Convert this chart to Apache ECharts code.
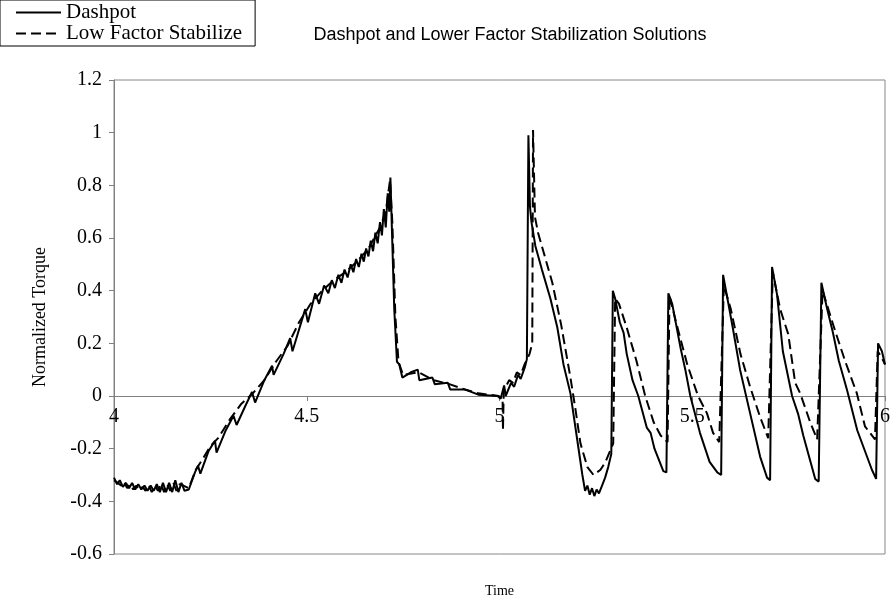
<!DOCTYPE html>
<html>
<head>
<meta charset="utf-8">
<script src="https://cdn.jsdelivr.net/npm/echarts@6/dist/echarts.min.js"></script>
<style>
  html, body { margin: 0; padding: 0; background: #fff; }
  #chart { width: 890px; height: 607px; }
</style>
</head>
<body>
<div id="chart"></div>
<script>
// Dashpot (solid) - time / normalized torque
const dashpotTime = [
  4.000, 4.008, 4.015, 4.023, 4.031, 4.039, 4.047, 4.055, 4.063, 4.071,
  4.079, 4.087, 4.095, 4.103, 4.111, 4.119, 4.127, 4.135, 4.143, 4.151,
  4.159, 4.167, 4.175, 4.183, 4.194, 4.210, 4.218, 4.224, 4.245, 4.262,
  4.266, 4.290, 4.310, 4.318, 4.340, 4.358, 4.366, 4.390, 4.410, 4.414,
  4.440, 4.457, 4.463, 4.496, 4.503, 4.522, 4.532, 4.545, 4.556, 4.565,
  4.573, 4.582, 4.590, 4.598, 4.606, 4.614, 4.621, 4.628, 4.635, 4.642,
  4.648, 4.654, 4.660, 4.666, 4.672, 4.678, 4.684, 4.690, 4.695, 4.700,
  4.705, 4.710, 4.714, 4.717, 4.720, 4.727, 4.734, 4.740, 4.748, 4.770,
  4.788, 4.792, 4.826, 4.832, 4.866, 4.872, 4.910, 4.945, 4.995, 5.003,
  5.012, 5.016, 5.030, 5.038, 5.048, 5.055, 5.066, 5.071, 5.075, 5.079,
  5.083, 5.093, 5.110, 5.132, 5.150, 5.166, 5.184, 5.202, 5.215, 5.222,
  5.228, 5.234, 5.240, 5.246, 5.252, 5.258, 5.266, 5.274, 5.282, 5.290,
  5.294, 5.300, 5.312, 5.322, 5.330, 5.345, 5.360, 5.382, 5.392, 5.402,
  5.425, 5.433, 5.438, 5.448, 5.470, 5.482, 5.495, 5.520, 5.545, 5.565,
  5.575, 5.580, 5.590, 5.605, 5.624, 5.650, 5.676, 5.694, 5.702, 5.707,
  5.720, 5.735, 5.759, 5.775, 5.788, 5.819, 5.828, 5.835, 5.850, 5.865,
  5.880, 5.902, 5.928, 5.966, 5.977, 5.982, 5.992, 6.000
];
const dashpotTorque = [
  -0.31, -0.335, -0.32, -0.345, -0.33, -0.35, -0.33, -0.355, -0.335, -0.355,
  -0.34, -0.36, -0.34, -0.36, -0.335, -0.365, -0.33, -0.365, -0.33, -0.365,
  -0.32, -0.365, -0.33, -0.36, -0.355, -0.29, -0.265, -0.295, -0.21, -0.17,
  -0.215, -0.13, -0.075, -0.11, -0.04, 0.015, -0.025, 0.06, 0.115, 0.08,
  0.16, 0.22, 0.17, 0.33, 0.28, 0.39, 0.35, 0.42, 0.39, 0.44,
  0.41, 0.46, 0.43, 0.48, 0.45, 0.50, 0.47, 0.52, 0.49, 0.54,
  0.51, 0.56, 0.53, 0.59, 0.55, 0.62, 0.58, 0.66, 0.61, 0.71,
  0.64, 0.77, 0.70, 0.83, 0.68, 0.33, 0.13, 0.12, 0.07, 0.09,
  0.10, 0.06, 0.07, 0.045, 0.05, 0.025, 0.025, 0.005, 0.0, -0.01,
  0.04, 0.0, 0.05, 0.035, 0.08, 0.065, 0.11, 0.14, 0.99, 0.72,
  0.66, 0.57, 0.48, 0.37, 0.26, 0.12, 0.01, -0.17, -0.30, -0.36,
  -0.34, -0.375, -0.35, -0.38, -0.355, -0.37, -0.34, -0.31, -0.27, -0.22,
  0.40, 0.37, 0.28, 0.24, 0.16, 0.06, 0.0, -0.12, -0.14, -0.20,
  -0.285, -0.29, 0.39, 0.35, 0.18, 0.10, 0.0, -0.14, -0.25, -0.29,
  -0.30, 0.46, 0.38, 0.26, 0.10, -0.065, -0.23, -0.31, -0.32, 0.49,
  0.385, 0.17, 0.0, -0.07, -0.15, -0.315, -0.325, 0.43, 0.33, 0.24,
  0.135, 0.02, -0.13, -0.28, -0.315, 0.20, 0.17, 0.12
];

// Low Factor Stabilize (dashed)
const lowTime = [
  4.000, 4.010, 4.018, 4.026, 4.034, 4.042, 4.050, 4.058, 4.066, 4.074,
  4.082, 4.090, 4.098, 4.106, 4.114, 4.122, 4.130, 4.138, 4.146, 4.154,
  4.162, 4.170, 4.180, 4.194, 4.212, 4.230, 4.250, 4.270, 4.300, 4.330,
  4.360, 4.390, 4.420, 4.450, 4.480, 4.510, 4.540, 4.570, 4.600, 4.630,
  4.660, 4.690, 4.705, 4.716, 4.722, 4.730, 4.738, 4.750, 4.790, 4.830,
  4.870, 4.910, 4.945, 4.998, 5.008, 5.009, 5.011, 5.025, 5.035, 5.045,
  5.055, 5.065, 5.078, 5.085, 5.087, 5.092, 5.100, 5.137, 5.160, 5.184,
  5.197, 5.210, 5.228, 5.244, 5.262, 5.275, 5.295, 5.300, 5.310, 5.330,
  5.355, 5.378, 5.400, 5.418, 5.436, 5.441, 5.458, 5.487, 5.515, 5.538,
  5.554, 5.570, 5.582, 5.600, 5.625, 5.650, 5.676, 5.697, 5.709, 5.728,
  5.749, 5.767, 5.780, 5.806, 5.824, 5.838, 5.870, 5.896, 5.927, 5.948,
  5.974, 5.981, 5.990, 6.000
];
const lowTorque = [
  -0.32, -0.33, -0.34, -0.325, -0.35, -0.335, -0.355, -0.34, -0.36, -0.345,
  -0.36, -0.34, -0.365, -0.34, -0.36, -0.335, -0.365, -0.335, -0.36, -0.33,
  -0.36, -0.335, -0.34, -0.35, -0.28, -0.24, -0.19, -0.16, -0.09, -0.03,
  0.01, 0.06, 0.13, 0.19, 0.28, 0.35, 0.40, 0.44, 0.47, 0.51,
  0.56, 0.64, 0.70, 0.82, 0.66, 0.30, 0.13, 0.08, 0.09, 0.06,
  0.045, 0.025, 0.01, 0.0, -0.01, -0.13, 0.02, 0.06, 0.05, 0.09,
  0.08, 0.12, 0.16, 0.20, 1.01, 0.68, 0.62, 0.43, 0.27, 0.07,
  -0.05, -0.18, -0.27, -0.30, -0.28, -0.25, -0.18, 0.37, 0.35, 0.26,
  0.135, 0.0, -0.10, -0.15, -0.175, 0.38, 0.28, 0.12, 0.0, -0.065,
  -0.14, -0.175, 0.42, 0.33, 0.16, 0.035, -0.08, -0.16, 0.47, 0.33,
  0.235, 0.05, 0.01, -0.10, -0.165, 0.40, 0.25, 0.135, 0.01, -0.115,
  -0.165, 0.17, 0.15, 0.12
];

const yTicks = { min: -0.6, max: 1.2, step: 0.2 };
const xTicks = { min: 4, max: 6, step: 0.5 };

const pairs = (xs, ys) => xs.map((x, i) => [x, ys[i]]);

const gridTop = 80, gridBottom = 53, chartH = 607;
// place the x axis on the zero line (Excel style)
const plotH = chartH - gridTop - gridBottom;
const zeroShift = plotH * (0 - yTicks.min) / (yTicks.max - yTicks.min);

const chart = echarts.init(document.getElementById('chart'));
chart.setOption({
  animation: false,
  backgroundColor: '#fff',
  title: {
    text: 'Dashpot and Lower Factor Stabilization Solutions',
    left: 505,
    top: 21,
    textAlign: 'center',
    textStyle: { fontFamily: 'Liberation Sans', fontSize: 18, fontWeight: 'normal', color: '#000' }
  },
  legend: {
    left: 0,
    top: 0,
    orient: 'vertical',
    itemWidth: 45,
    itemHeight: 12,
    itemGap: 0,
    padding: [2, 13, 2, 15],
    borderColor: '#000',
    borderWidth: 1,
    itemStyle: { opacity: 0 },
    textStyle: { fontFamily: 'Liberation Serif', fontSize: 21, lineHeight: 20, color: '#000' },
    data: ['Dashpot', 'Low Factor Stabilize']
  },
  grid: {
    left: 114, right: 5, top: gridTop, bottom: gridBottom,
    outerBoundsMode: 'none', containLabel: false,
    show: true, borderColor: '#888', borderWidth: 1
  },
  xAxis: {
    type: 'value',
    min: xTicks.min,
    max: xTicks.max,
    interval: xTicks.step,
    position: 'bottom',
    offset: -zeroShift,
    name: 'Time',
    nameLocation: 'middle',
    nameGap: 188,
    nameTextStyle: { fontFamily: 'Liberation Serif', fontSize: 14, color: '#000' },
    axisLine: { onZero: false, lineStyle: { color: '#808080', width: 1 } },
    axisTick: { show: true, length: 5, lineStyle: { color: '#808080' } },
    axisLabel: { fontFamily: 'Liberation Serif', fontSize: 20, color: '#000', margin: 11 },
    splitLine: { show: false }
  },
  yAxis: {
    type: 'value',
    min: yTicks.min,
    max: yTicks.max,
    interval: yTicks.step,
    name: 'Normalized Torque',
    nameLocation: 'middle',
    nameGap: 65,
    nameTextStyle: { fontFamily: 'Liberation Serif', fontSize: 18, color: '#000' },
    axisLine: { show: true, lineStyle: { color: '#808080', width: 1 } },
    axisTick: { show: true, length: 5, lineStyle: { color: '#808080' } },
    axisLabel: { fontFamily: 'Liberation Serif', fontSize: 20, color: '#000', margin: 12 },
    splitLine: { show: false }
  },
  series: [
    {
      name: 'Dashpot',
      type: 'line',
      symbol: 'none',
      data: pairs(dashpotTime, dashpotTorque),
      lineStyle: { color: '#000', width: 2, type: 'solid' },
      itemStyle: { color: '#000' }
    },
    {
      name: 'Low Factor Stabilize',
      type: 'line',
      symbol: 'none',
      data: pairs(lowTime, lowTorque),
      lineStyle: { color: '#000', width: 2, type: [10, 5] },
      itemStyle: { color: '#000' }
    }
  ]
});
</script>
</body>
</html>
